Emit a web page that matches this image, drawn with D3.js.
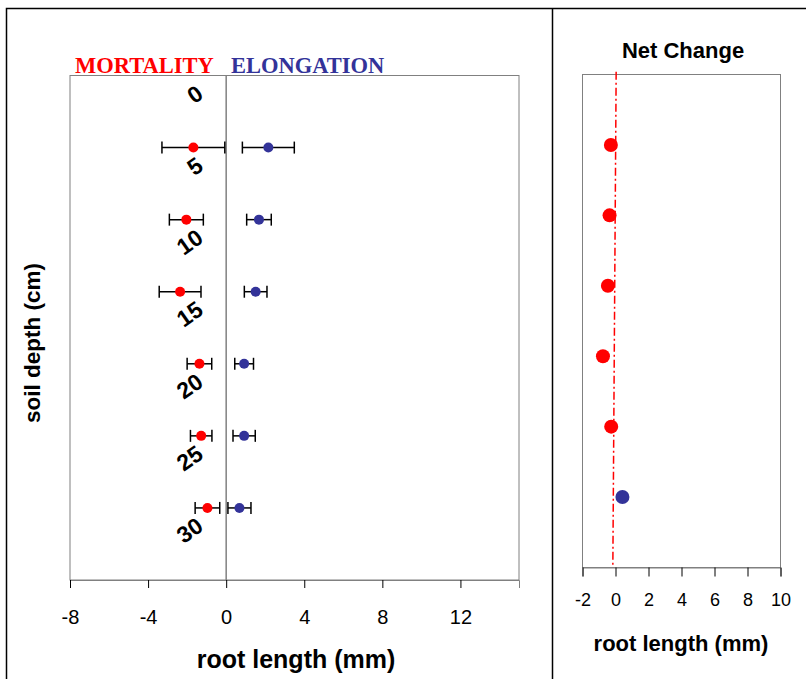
<!DOCTYPE html>
<html>
<head>
<meta charset="utf-8">
<script src="https://cdn.jsdelivr.net/npm/d3@7"></script>
<style>
  body { margin: 0; background: #fff; }
  svg { display: block; font-family: "Liberation Sans", Arial, sans-serif; }
</style>
</head>
<body>
<svg width="806" height="679"></svg>
<script>
// depth rows (cm) and readings (mm)
const depthLabels = [0, 5, 10, 15, 20, 25, 30];
const depths = [5, 10, 15, 20, 25, 30];
const mortality = [-1.68, -2.04, -2.36, -1.37, -1.28, -0.96];
const mortalityErr = [1.61, 0.87, 1.07, 0.63, 0.55, 0.63];
const elongation = [2.16, 1.68, 1.51, 0.92, 0.92, 0.68];
const elongationErr = [1.33, 0.63, 0.58, 0.48, 0.57, 0.59];
const netChange = [-0.28, -0.36, -0.46, -0.76, -0.26, 0.42];
const leftTicks = [-8, -4, 0, 4, 8, 12];
const rightTicks = [-2, 0, 2, 4, 6, 8, 10];
// dash-dot reference line in the net change panel: [value, depth]
const netRefLine = [[0.04, -0.2], [-0.16, 34.8]];

const RED = "#ff0000", BLUE = "#333399", GREY = "#808080";

const svg = d3.select("svg");

// outer frame
svg.append("path")
  .attr("d", "M6.5,679V8.5H806M552.5,8.5V679")
  .attr("fill", "none")
  .attr("stroke", "#000")
  .attr("stroke-width", 1.5);

// ---------- left panel ----------
const x = d3.scaleLinear().domain([-8, 15]).range([70, 519]);
const y = d3.scaleLinear().domain([0, 35]).range([75.5, 580]);

const left = svg.append("g");

left.append("rect")
  .attr("x", x(-8)).attr("y", y(0))
  .attr("width", x(15) - x(-8)).attr("height", y(35) - y(0))
  .attr("fill", "none").attr("stroke", GREY);

left.append("line")
  .attr("x1", x(0)).attr("x2", x(0))
  .attr("y1", y(0)).attr("y2", y(35))
  .attr("stroke", GREY).attr("stroke-width", 1.5);

left.append("g")
  .attr("transform", `translate(0,${y(35)})`)
  .call(d3.axisBottom(x).tickValues(leftTicks).tickSize(8).tickPadding(22).tickFormat(d => String(d)))
  .call(g => g.select(".domain").attr("stroke", GREY))
  .call(g => g.selectAll(".tick line").attr("stroke", "#000"))
  .call(g => g.selectAll("text").attr("font-size", 20).attr("font-family", "Liberation Sans, Arial").attr("fill", "#000"));

// depth labels, rotated inside plot
left.selectAll(".depth")
  .data(depthLabels)
  .enter().append("text")
  .attr("transform", d => `translate(${x(0) - 26},${y(d) + 15}) rotate(-35)`)
  .attr("text-anchor", "end")
  .attr("dominant-baseline", "central")
  .attr("font-weight", "bold")
  .attr("font-size", 23)
  .text(d => d);

function series(vals, errs, color) {
  const g = left.append("g");
  const rows = depths.map((d, i) => ({ d, v: vals[i], e: errs[i] }));
  const bars = g.selectAll("g").data(rows).enter().append("g")
    .attr("stroke", "#000").attr("stroke-width", 1.5);
  bars.append("line")
    .attr("x1", r => x(r.v - r.e)).attr("x2", r => x(r.v + r.e))
    .attr("y1", r => y(r.d)).attr("y2", r => y(r.d));
  bars.append("line")
    .attr("x1", r => x(r.v - r.e)).attr("x2", r => x(r.v - r.e))
    .attr("y1", r => y(r.d) - 6).attr("y2", r => y(r.d) + 6);
  bars.append("line")
    .attr("x1", r => x(r.v + r.e)).attr("x2", r => x(r.v + r.e))
    .attr("y1", r => y(r.d) - 6).attr("y2", r => y(r.d) + 6);
  g.selectAll("circle").data(rows).enter().append("circle")
    .attr("cx", r => x(r.v)).attr("cy", r => y(r.d))
    .attr("r", 5).attr("fill", color);
}
series(mortality, mortalityErr, RED);
series(elongation, elongationErr, BLUE);

left.append("text")
  .attr("x", 75).attr("y", 73)
  .attr("font-family", "Liberation Serif, Times New Roman, serif")
  .attr("font-weight", "bold").attr("font-size", 22.5)
  .attr("fill", RED).text("MORTALITY");
left.append("text")
  .attr("x", 231).attr("y", 73)
  .attr("font-family", "Liberation Serif, Times New Roman, serif")
  .attr("font-weight", "bold").attr("font-size", 22.5)
  .attr("fill", BLUE).text("ELONGATION");

left.append("text")
  .attr("x", 296).attr("y", 668)
  .attr("text-anchor", "middle")
  .attr("font-weight", "bold").attr("font-size", 25)
  .text("root length (mm)");

left.append("text")
  .attr("transform", "translate(40,343) rotate(-90)")
  .attr("text-anchor", "middle")
  .attr("font-weight", "bold").attr("font-size", 22.5)
  .text("soil depth (cm)");

// ---------- right panel ----------
const x2 = d3.scaleLinear().domain([-2, 10]).range([582.5, 780.5]);
const y2 = d3.scaleLinear().domain([0, 35]).range([74.5, 567.5]);

const right = svg.append("g");

right.append("rect")
  .attr("x", x2(-2)).attr("y", y2(0))
  .attr("width", x2(10) - x2(-2)).attr("height", y2(35) - y2(0))
  .attr("fill", "none").attr("stroke", GREY);

right.append("g")
  .attr("transform", `translate(0,${y2(35)})`)
  .call(d3.axisBottom(x2).tickValues(rightTicks).tickSize(9).tickPadding(17).tickFormat(d => String(d)))
  .call(g => g.select(".domain").attr("stroke", GREY))
  .call(g => g.selectAll(".tick line").attr("stroke", "#000"))
  .call(g => g.selectAll("text").attr("font-size", 18).attr("font-family", "Liberation Sans, Arial").attr("fill", "#000"));

right.append("path")
  .datum(netRefLine)
  .attr("d", d3.line().x(d => x2(d[0])).y(d => y2(d[1])))
  .attr("fill", "none")
  .attr("stroke", RED).attr("stroke-width", 1.5)
  .attr("stroke-dasharray", "8,3,2,3");

right.selectAll("circle")
  .data(depths.map((d, i) => ({ d, v: netChange[i] })))
  .enter().append("circle")
  .attr("cx", r => x2(r.v)).attr("cy", r => y2(r.d))
  .attr("r", 7)
  .attr("fill", r => r.v < 0 ? RED : BLUE);

right.append("text")
  .attr("x", 683).attr("y", 58)
  .attr("text-anchor", "middle")
  .attr("font-weight", "bold").attr("font-size", 22)
  .text("Net Change");

right.append("text")
  .attr("x", 681).attr("y", 651)
  .attr("text-anchor", "middle")
  .attr("font-weight", "bold").attr("font-size", 22)
  .text("root length (mm)");
</script>
</body>
</html>
